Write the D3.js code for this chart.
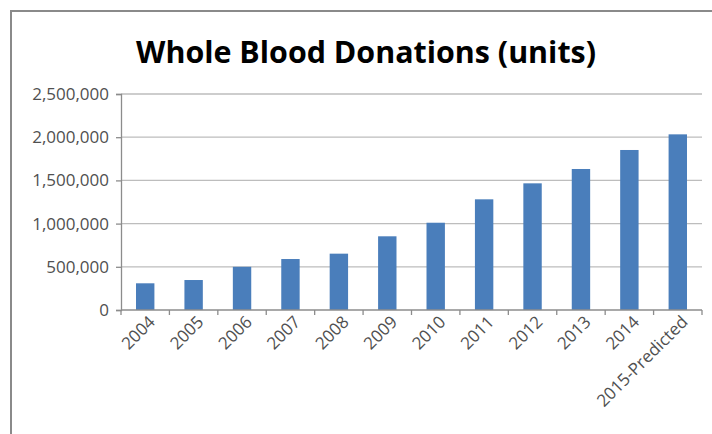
<!DOCTYPE html>
<html>
<head>
<meta charset="utf-8">
<script src="https://cdn.jsdelivr.net/npm/d3@7"></script>
<style>
  body { margin: 0; background: #fff; }
  svg { display: block; }
  .tick-label { font-family: "Open Sans", sans-serif; fill: #505050; }
</style>
</head>
<body>
<svg width="712" height="434"></svg>
<script>
const years = ["2004", "2005", "2006", "2007", "2008", "2009", "2010", "2011", "2012", "2013", "2014", "2015-Predicted"];
const donations = [309000, 347000, 500000, 590000, 652000, 853000, 1010000, 1281000, 1466000, 1632000, 1852000, 2033000];
const yTicks = [0, 500000, 1000000, 1500000, 2000000, 2500000];

const svg = d3.select("svg");

// chart frame (only top / left edges are inside the picture)
svg.append("path")
  .attr("d", "M11,434 L11,11 L712,11")
  .attr("fill", "none")
  .attr("stroke", "#8a8a8a")
  .attr("stroke-width", 2);

const x = d3.scaleBand().domain(years).range([121, 702]).paddingInner(0.62).paddingOuter(0.31);
const y = d3.scaleLinear().domain([0, 2500000]).range([310, 94]);

// gridlines
svg.append("g")
  .selectAll("line")
  .data(yTicks.slice(1))
  .join("line")
  .attr("x1", 121)
  .attr("x2", 702)
  .attr("y1", (d) => y(d))
  .attr("y2", (d) => y(d))
  .attr("stroke", "#bdbdbd")
  .attr("stroke-width", 1.3);

// y axis
const yAxis = svg.append("g")
  .attr("transform", "translate(121,0)")
  .call(d3.axisLeft(y).tickValues(yTicks).tickSize(5).tickPadding(7).tickFormat(d3.format(",")));
yAxis.select(".domain").attr("stroke", "#8c8c8c").attr("stroke-width", 1.3);
yAxis.selectAll(".tick line").attr("stroke", "#8c8c8c").attr("stroke-width", 1.3);
yAxis.selectAll("text")
  .attr("class", "tick-label")
  .style("font-size", "17px");

// bars
svg.append("g")
  .selectAll("rect")
  .data(donations)
  .join("rect")
  .attr("x", (d, i) => x(years[i]))
  .attr("width", x.bandwidth())
  .attr("y", (d) => y(d))
  .attr("height", (d) => y(0) - y(d))
  .attr("fill", "#4a7ebb");

// x axis with ticks between categories
const step = x.step();
const boundaries = d3.range(years.length + 1).map((i) => 121 + i * step);
const xg = svg.append("g");
xg.append("line")
  .attr("x1", 121).attr("x2", 702)
  .attr("y1", y(0)).attr("y2", y(0))
  .attr("stroke", "#8c8c8c").attr("stroke-width", 1.3);
xg.selectAll("line.tk")
  .data(boundaries)
  .join("line")
  .attr("class", "tk")
  .attr("x1", (d) => d).attr("x2", (d) => d)
  .attr("y1", y(0)).attr("y2", y(0) + 5)
  .attr("stroke", "#8c8c8c").attr("stroke-width", 1.3);

xg.selectAll("text")
  .data(years)
  .join("text")
  .attr("class", "tick-label")
  .style("font-size", "17px")
  .attr("text-anchor", "end")
  .attr("transform", (d) => `translate(${x(d) + x.bandwidth() / 2 + 11},${y(0) + 13}) rotate(-45)`)
  .text((d) => d);

// title
const title = svg.append("text")
  .attr("x", 366)
  .attr("y", 63)
  .attr("text-anchor", "middle")
  .style("font-family", "'Open Sans', sans-serif")
  .style("font-weight", "bold")
  .style("font-size", "28px")
  .attr("fill", "#000")
  .text("Whole Blood Donations (units)");
const tw = title.node().getComputedTextLength();
title.style("font-size", (28 * 460 / tw).toFixed(2) + "px");
</script>
</body>
</html>
